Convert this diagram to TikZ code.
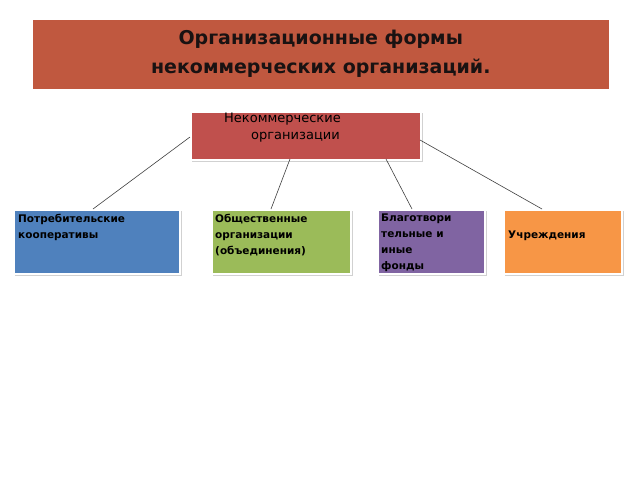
\documentclass[tikz,border=0pt]{standalone}
\usepackage{fontspec}
\setmainfont{DejaVu Sans}
\begin{document}
\begin{tikzpicture}[x=1pt,y=-1pt,
  box/.style={draw=white,line width=1.5pt,inner sep=0pt},
  shad/.style={fill=black!18},
  lbl/.style={anchor=north west,align=left,font=\fontsize{10.5}{16}\selectfont\bfseries,inner sep=0pt},
  conn/.style={draw=black!75,line width=0.6pt}]
\useasboundingbox (0,0) rectangle (640,480);
\fill[white] (0,0) rectangle (640,480);
% title
\node[box,fill=red!50!orange!70!black!90,minimum width=576pt,minimum height=69pt,anchor=north west,draw=none,fill={rgb,255:red,192;green,88;blue,63}] (title) at (32,19) {};
\node[align=center,font=\fontsize{19}{29}\selectfont\bfseries,text={rgb,255:red,25;green,18;blue,18}] (tt) at (title.center) {Организационные формы\\некоммерческих организаций.};
% shadows
\foreach \a/\b/\c/\d in {190/111/420/159,13/209/179/273,211/209/350/273,377/209/484/273,503/209/621/273}
  \fill[shad] (\a+2,\b+2) rectangle (\c+3,\d+3);
\node[box,fill={rgb,255:red,192;green,80;blue,77},minimum width=230pt,minimum height=48pt,anchor=north west] (top) at (190,111) {};
\node[align=center,font=\fontsize{13}{17}\selectfont,anchor=north west,inner sep=0pt] (toptx) at (224,113) {Некоммерческие\\\hspace*{2em}организации};
\node[box,fill={rgb,255:red,79;green,129;blue,189},minimum width=166pt,minimum height=64pt,anchor=north west] (b1) at (13,209) {};
\node[box,fill={rgb,255:red,155;green,187;blue,89},minimum width=139pt,minimum height=64pt,anchor=north west] (b2) at (211,209) {};
\node[box,fill={rgb,255:red,128;green,100;blue,162},minimum width=107pt,minimum height=64pt,anchor=north west] (b3) at (377,209) {};
\node[box,fill={rgb,255:red,247;green,150;blue,70},minimum width=118pt,minimum height=64pt,anchor=north west] (b4) at (503,209) {};
\node[lbl] (t1) at (18,214) {Потребительские\\кооперативы};
\node[lbl] (t2) at (215,214) {Общественные\\организации\\(объединения)};
\node[lbl] (t3) at (381,214) {Благотвори\\тельные и\\иные\\фонды};
\node[lbl,anchor=west] (t4) at (508,236) {Учреждения};
\coordinate (c1) at (190,137); \coordinate (c2) at (290,159);
\coordinate (c3) at (386,159); \coordinate (c4) at (420,140);
\coordinate (d1) at (93,209); \coordinate (d2) at (271,209);
\coordinate (d3) at (412,209); \coordinate (d4) at (542,209);
\draw[conn] (c1) -- (d1); \draw[conn] (c2) -- (d2);
\draw[conn] (c3) -- (d3); \draw[conn] (c4) -- (d4);
\end{tikzpicture}
\end{document}
